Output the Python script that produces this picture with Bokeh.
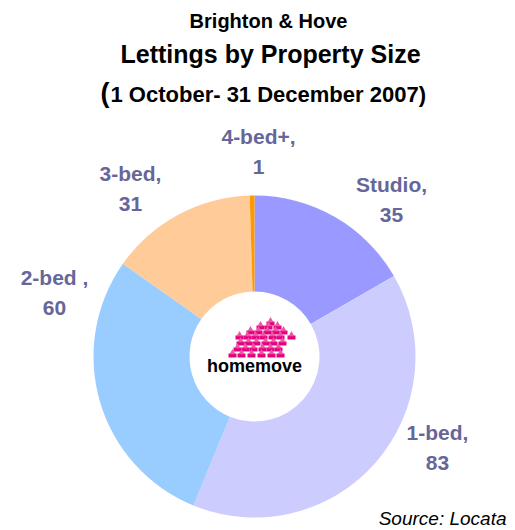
import math
from bokeh.plotting import figure
from bokeh.models import Range1d
from bokeh.core.properties import value
from bokeh.embed import file_html
from bokeh.resources import INLINE

categories = ["Studio", "1-bed", "2-bed", "3-bed", "4-bed+"]
counts = [35, 83, 60, 31, 1]
label_lines = [("Studio,", "35"), ("1-bed,", "83"), ("2-bed ,", "60"), ("3-bed,", "31"), ("4-bed+,", "1")]
colors = ["#9999FF", "#CCCCFF", "#99CCFF", "#FFCC99", "#FF9900"]

W, H = 515, 530
p = figure(width=W, height=H, output_backend="svg", toolbar_location=None,
           x_range=Range1d(0, W), y_range=Range1d(0, H), min_border=0)
p.axis.visible = False
p.grid.visible = False
p.outline_line_color = None
p.background_fill_color = "white"
p.border_fill_color = "white"

def X(ix):
    return ix

def Y(iy):
    return H - iy

cx, cy = X(254), Y(356)
total = sum(counts)
starts, ends = [], []
cum = 0
for c in counts:
    starts.append(math.pi / 2 - 2 * math.pi * cum / total)
    cum += c
    ends.append(math.pi / 2 - 2 * math.pi * cum / total)

p.annular_wedge(x=[cx] * len(counts), y=[cy] * len(counts), inner_radius=65, outer_radius=161,
                start_angle=starts, end_angle=ends, direction="clock",
                fill_color=colors, line_color=None)

FONT = value("Liberation Sans")
# titles
p.text(x=[X(268)], y=[Y(20)], text=["Brighton & Hove"], text_font=FONT, text_font_style="bold",
       text_font_size="20px", text_align="center", text_baseline="middle", text_color="black")
p.text(x=[X(270)], y=[Y(53)], text=["Lettings by Property Size"], text_font=FONT, text_font_style="bold",
       text_font_size="25px", text_align="center", text_baseline="middle", text_color="black")
p.text(x=[X(100)], y=[Y(92)], text=["("], text_font=FONT, text_font_style="bold",
       text_font_size="27px", text_align="left", text_baseline="middle", text_color="black")
p.text(x=[X(110)], y=[Y(94)], text=["1 October- 31 December 2007)"], text_font=FONT, text_font_style="bold",
       text_font_size="22px", text_align="left", text_baseline="middle", text_color="black")

# slice labels
label_pos = [(391, 184), (437, 432), (54, 277), (130, 173), (258, 136)]
for (t1, t2), (lx, ly) in zip(label_lines, label_pos):
    p.text(x=[X(lx), X(lx)], y=[Y(ly), Y(ly + 30)], text=[t1, t2], text_font=FONT, text_font_style="bold",
           text_font_size="21px", text_align="center", text_baseline="middle", text_color="#666699")

# logo: pink houses (decoration)
logo_rows = [
    (322, [270]),
    (326, [260, 268, 277]),
    (331, [250, 258, 267, 275, 283]),
    (336, [239, 247, 255, 263, 272, 280, 291]),
    (342, [240, 248, 256, 265, 273, 282]),
    (348, [237, 245, 253, 262, 270, 278]),
    (354, [232, 241, 251, 261, 271, 280]),
]
hx, hy = [], []
for ry, xs in logo_rows:
    for xx in xs:
        hx.append(X(xx))
        hy.append(Y(ry))
p.rect(x=hx, y=[v - 1 for v in hy], width=8, height=4, fill_color="#E6007E", line_color=None)
p.scatter(x=hx, y=[v + 2 for v in hy], marker="triangle", size=6, fill_color="#EE55A8", line_color=None)
p.text(x=[X(254)], y=[Y(365)], text=["homemove"], text_font=FONT, text_font_style="bold",
       text_font_size="18px", text_align="center", text_baseline="middle", text_color="black")

p.text(x=[X(506)], y=[Y(518)], text=["Source: Locata"], text_font=FONT, text_font_style="italic",
       text_font_size="19px", text_align="right", text_baseline="middle", text_color="black")

open("out.html", "w").write(file_html(p, INLINE))
